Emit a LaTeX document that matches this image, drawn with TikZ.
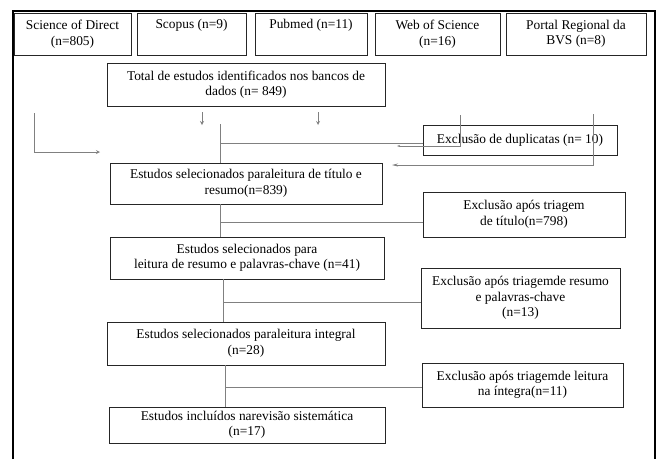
\documentclass[tikz,border=0pt]{standalone}
\usepackage{fontspec}
\setmainfont{Liberation Serif}
\usetikzlibrary{arrows.meta}
\tikzset{caixa/.style={draw=black!85,line width=0.8pt,align=center,inner sep=1pt,font=\fontsize{13.4}{15.5}\selectfont},
base/.style={caixa,minimum height=42},
liga/.style={draw=black!50,line width=0.8pt}}
\begin{document}
\begin{tikzpicture}[x=1pt,y=-1pt]
\useasboundingbox(0,0) rectangle (659,459);
\draw[line width=2.2pt](13,459)--(13,11);
\draw[line width=1.2pt](12,11)--(655,11)--(655,459);
% bases de dados
\node[base,minimum width=117](sd) at (72.5,34){Science of Direct\\(n=805)};
\node[base,minimum width=109](scopus) at (191.5,34){Scopus (n=9)\\\strut};
\node[base,minimum width=112](pubmed) at (311,34){Pubmed (n=11)\\\strut};
\node[base,minimum width=125](wos) at (437.5,34){Web of Science\\(n=16)};
\node[base,minimum width=140](bvs) at (576,34){Portal Regional da\\BVS (n=8)};
% fluxo principal
\node[caixa,minimum width=278,minimum height=43](total) at (246,84.5){Total de estudos identificados nos bancos de\\dados (n= 849)};
\node[caixa,minimum width=272,minimum height=41](e1) at (246,183.5){Estudos selecionados paraleitura de título e\\resumo(n=839)};
\node[caixa,minimum width=274,minimum height=42](e2) at (247,258){Estudos selecionados para\\leitura de resumo e palavras-chave (n=41)};
\node[caixa,minimum width=278,minimum height=43](e3) at (246,343.5){Estudos selecionados paraleitura integral\\(n=28)};
\node[caixa,minimum width=276,minimum height=36](e4) at (247,425){Estudos incluídos narevisão sistemática\\(n=17)};
% exclusoes
\node[caixa,minimum width=194,minimum height=30](dup) at (520,140){Exclusão de duplicatas (n= 10)};
\node[caixa,minimum width=202,minimum height=45](x1) at (524,214.5){Exclusão após triagem\\de título(n=798)};
\node[caixa,minimum width=199,minimum height=60](x2) at (520.5,298){Exclusão após triagemde resumo\\e palavras-chave\\(n=13)};
\node[caixa,minimum width=201,minimum height=44](x3) at (522.5,385){Exclusão após triagemde leitura\\na íntegra(n=11)};
% ligacoes
\coordinate(pa) at (202,125);
\coordinate(pb) at (318,125);
\draw[liga,-stealth,shorten <=6pt](total.south -| pa)--(pa);
\draw[liga,-stealth,shorten <=6pt](total.south -| pb)--(pb);
\coordinate(l0) at (34,113);
\coordinate(l1) at (100,152);
\draw[liga,-stealth](l0)|-(l1);
\coordinate(t0) at (220,124);
\coordinate(t1) at (220,143);
\draw[liga](t0)--(t0 |- e1.north);
\draw[liga](t1)--(t1 -| dup.west);
\coordinate(r0) at (460,115);
\coordinate(r1) at (397,146);
\draw[liga,-{Stealth[length=3pt,width=2pt]}](r0)|-(r1);
\coordinate(q0) at (593,114);
\coordinate(q1) at (392,165);
\draw[liga,-{Stealth[length=6pt,width=3pt]}](q0)|-(q1);
\coordinate(j1) at (220,222);
\draw[liga](e1.south -| j1)--(e2.north -| j1);
\draw[liga](j1)--(j1 -| x1.west);
\coordinate(j2) at (223,302);
\draw[liga](e2.south -| j2)--(e3.north -| j2);
\draw[liga](j2)--(j2 -| x2.west);
\coordinate(j3) at (225,387);
\draw[liga](e3.south -| j3)--(e4.north -| j3);
\draw[liga](j3)--(j3 -| x3.west);
\end{tikzpicture}
\end{document}
